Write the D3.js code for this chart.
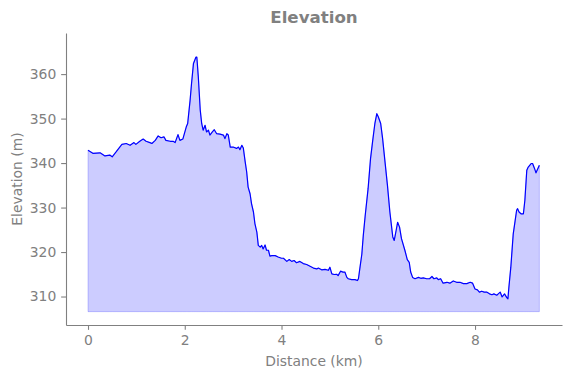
<!DOCTYPE html>
<html>
<head>
<meta charset="utf-8">
<script src="https://cdn.jsdelivr.net/npm/d3@7"></script>
<style>
  html, body { margin: 0; padding: 0; background: #fff; }
  svg { display: block; font-family: "DejaVu Sans", sans-serif; }
</style>
</head>
<body>
<svg id="chart" width="571" height="378"></svg>
<script>
// ---- data ----
const distanceKm = [
  0.00,0.10,0.25,0.35,0.45,0.50,0.58,0.62,0.70,0.79,0.87,0.95,0.99,1.07,1.14,1.20,1.28,1.32,1.39,1.45,
  1.51,1.57,1.61,1.70,1.76,1.80,1.86,1.90,1.96,2.03,2.06,2.11,2.14,2.18,2.23,2.25,2.28,2.32,2.35,2.38,
  2.42,2.45,2.49,2.52,2.57,2.61,2.66,2.73,2.80,2.83,2.87,2.90,2.94,3.00,3.07,3.11,3.14,3.18,3.21,3.25,
  3.28,3.31,3.35,3.38,3.42,3.45,3.49,3.52,3.56,3.59,3.62,3.66,3.69,3.73,3.76,3.80,3.87,3.93,4.00,4.04,
  4.11,4.16,4.21,4.26,4.31,4.38,4.45,4.52,4.59,4.66,4.73,4.76,4.83,4.90,4.97,5.00,5.04,5.09,5.14,5.17,
  5.22,5.27,5.31,5.35,5.38,5.45,5.52,5.57,5.59,5.62,5.66,5.69,5.73,5.79,5.84,5.89,5.93,5.97,6.00,6.05,
  6.09,6.14,6.19,6.24,6.30,6.33,6.37,6.40,6.44,6.48,6.55,6.60,6.64,6.67,6.71,6.76,6.83,6.88,6.93,7.00,
  7.06,7.11,7.15,7.21,7.24,7.29,7.34,7.42,7.48,7.55,7.62,7.69,7.76,7.83,7.90,7.95,8.00,8.05,8.09,8.14,
  8.19,8.24,8.30,8.35,8.39,8.45,8.48,8.52,8.56,8.61,8.66,8.68,8.70,8.74,8.79,8.83,8.86,8.88,8.91,8.95,
  9.00,9.03,9.07,9.10,9.16,9.19,9.23,9.26,9.30,9.33
];
const elevationM = [
  342.9,342.2,342.3,341.6,341.8,341.4,342.5,343.1,344.2,344.4,344.0,344.6,344.2,344.9,345.4,344.9,344.6,344.4,345.1,346.1,
  345.7,345.9,345.1,344.9,344.9,344.6,346.4,345.1,345.4,348.1,348.9,354.1,357.9,362.4,363.8,363.8,359.4,351.9,348.9,347.4,
  348.5,347.0,347.4,346.3,347.0,347.5,346.6,346.5,346.3,345.5,346.6,346.3,343.6,343.6,343.3,343.6,343.0,344.0,343.4,340.2,
  338.0,334.6,333.1,330.9,329.0,326.4,324.5,321.5,321.1,321.5,320.7,321.6,320.4,320.4,319.1,319.2,319.2,318.9,318.6,318.6,
  317.9,318.3,317.9,318.1,317.6,317.9,317.4,317.2,316.8,316.4,316.2,316.4,316.0,316.1,315.9,316.6,315.1,314.95,315.0,314.7,
  315.7,315.5,315.5,314.3,314.0,313.8,313.8,313.6,314.0,316.4,319.5,323.7,328.2,334.3,341.0,345.5,348.9,351.1,350.4,348.9,
  345.5,340.2,335.0,329.0,323.4,322.6,324.9,326.7,325.6,323.0,320.4,318.3,317.7,315.5,314.3,314.0,314.3,314.1,314.2,314.0,
  314.0,314.5,314.0,314.2,313.8,314.0,313.0,313.2,313.0,313.5,313.2,313.2,312.9,312.9,313.2,313.0,311.7,311.5,311.0,311.2,
  311.0,311.0,310.6,310.4,310.6,310.3,310.6,311.0,309.9,310.6,309.7,309.5,312.1,316.6,324.1,327.1,329.4,329.75,329.0,328.6,
  328.6,331.6,338.4,339.1,339.9,339.9,338.8,337.8,338.8,339.5
];
const fillBaseline = 306.6;
const xTicks = [0, 2, 4, 6, 8];
const yTicks = [310, 320, 330, 340, 350, 360];
const titleText = "Elevation";
const xLabelText = "Distance (km)";
const yLabelText = "Elevation (m)";

// ---- layout ----
const plot = { left: 66, right: 562, top: 33, bottom: 325 };
const gray = "#808080";
const fontSize = 13.9;

const data = distanceKm.map((d, i) => ({ x: d, y: elevationM[i] }));

const x = d3.scaleLinear().domain([-0.455, 9.798]).range([plot.left, plot.right]);
const y = d3.scaleLinear().domain([303.6, 369.24]).range([plot.bottom, plot.top]);

const svg = d3.select("#chart");

// area fill
const area = d3.area()
  .x(d => x(d.x))
  .y0(() => y(fillBaseline))
  .y1(d => y(d.y));
svg.append("path")
  .datum(data)
  .attr("d", area)
  .attr("fill", "rgba(0,0,255,0.2)")
  .attr("stroke", "rgba(0,0,255,0.2)")
  .attr("stroke-width", 1);

// line
const line = d3.line().x(d => x(d.x)).y(d => y(d.y));
svg.append("path")
  .datum(data)
  .attr("d", line)
  .attr("fill", "none")
  .attr("stroke", "#0000ff")
  .attr("stroke-width", 1.2)
  .attr("stroke-linejoin", "round");

// axes
const tickLen = 4.86, tickPad = 4.86;
const xAxis = d3.axisBottom(x).tickValues(xTicks).tickFormat(d3.format("d"))
  .tickSize(tickLen).tickPadding(tickPad).tickSizeOuter(0);
const yAxis = d3.axisLeft(y).tickValues(yTicks).tickFormat(d3.format("d"))
  .tickSize(tickLen).tickPadding(tickPad).tickSizeOuter(0);

const gx = svg.append("g").attr("transform", `translate(0,${plot.bottom})`).call(xAxis);
const gy = svg.append("g").attr("transform", `translate(${plot.left},0)`).call(yAxis);

[gx, gy].forEach(g => {
  g.select(".domain").attr("stroke", gray).attr("stroke-width", 1.1);
  g.selectAll(".tick line").attr("stroke", gray).attr("stroke-width", 1.1);
  g.selectAll(".tick text")
    .attr("fill", gray)
    .style("font-family", "'DejaVu Sans', sans-serif")
    .style("font-size", fontSize + "px");
});

// title
svg.append("text")
  .attr("x", (plot.left + plot.right) / 2)
  .attr("y", 23)
  .attr("text-anchor", "middle")
  .attr("fill", gray)
  .style("font-size", "16.67px")
  .style("font-weight", "bold")
  .text(titleText);

// axis labels
svg.append("text")
  .attr("x", (plot.left + plot.right) / 2)
  .attr("y", 366)
  .attr("text-anchor", "middle")
  .attr("fill", gray)
  .style("font-size", fontSize + "px")
  .text(xLabelText);

svg.append("text")
  .attr("transform", `translate(22,${(plot.top + plot.bottom) / 2}) rotate(-90)`)
  .attr("text-anchor", "middle")
  .attr("fill", gray)
  .style("font-size", fontSize + "px")
  .text(yLabelText);
</script>
</body>
</html>
